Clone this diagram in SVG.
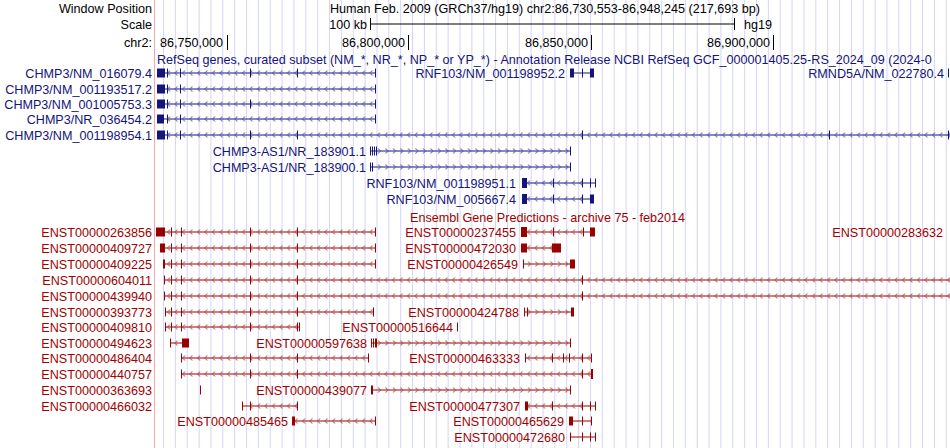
<svg xmlns="http://www.w3.org/2000/svg" width="950" height="448" viewBox="0 0 950 448">
<defs>
<pattern id="grid" patternUnits="userSpaceOnUse" x="163" y="0" width="11.86" height="10"><line x1="0.5" y1="0" x2="0.5" y2="10" style="stroke:#d4d4f4;stroke-width:1"/></pattern>
<pattern id="lb" patternUnits="userSpaceOnUse" x="0" y="-4" width="7.5" height="8"><path d="M5,1.5 L2.5,4 L5,6.5" style="fill:none;stroke:#5a5aa8;stroke-width:1"/></pattern>
<pattern id="gb" patternUnits="userSpaceOnUse" x="0" y="-4" width="7.5" height="8"><path d="M3,1.5 L5.5,4 L3,6.5" style="fill:none;stroke:#5a5aa8;stroke-width:1"/></pattern>
<pattern id="lr" patternUnits="userSpaceOnUse" x="0" y="-4" width="7.5" height="8"><path d="M5,1.5 L2.5,4 L5,6.5" style="fill:none;stroke:#b05050;stroke-width:1"/></pattern>
<pattern id="gr" patternUnits="userSpaceOnUse" x="0" y="-4" width="7.5" height="8"><path d="M3,1.5 L5.5,4 L3,6.5" style="fill:none;stroke:#b05050;stroke-width:1"/></pattern>
</defs>
<style>
text{font-family:"Liberation Sans",Arial,sans-serif;font-size:12.6px}
.k{fill:#000}
.b text,text.b{fill:#14147a}
.r text,text.r{fill:#a00000}
.lab{text-anchor:end}
.b line,.b path{stroke:#14147a;stroke-width:1;fill:none}
.r line,.r path{stroke:#990000;stroke-width:1;fill:none}
.b rect.t{fill:#14147a}
.r rect.t{fill:#990000}
</style>
<rect width="950" height="448" fill="#fff"/>
<rect x="155" y="0" width="795" height="448" fill="url(#grid)"/>
<line x1="154.5" y1="0" x2="154.5" y2="448" stroke="#f0a8a8"/>
<g id="header">
<text class="k lab" x="152" y="13">Window Position</text>
<text class="k" x="330" y="13">Human Feb. 2009 (GRCh37/hg19)   chr2:86,730,553-86,948,245 (217,693 bp)</text>
<text class="k lab" x="152" y="29">Scale</text>
<text class="k lab" x="367" y="29">100 kb</text>
<path d="M370.5,18v12M370.5,24H734.5M734.5,18v12" stroke="#000" fill="none"/>
<text class="k" x="744" y="29">hg19</text>
<text class="k lab" x="152" y="47">chr2:</text>
<text class="k lab" x="223" y="47">86,750,000</text>
<text class="k lab" x="405" y="47">86,800,000</text>
<text class="k lab" x="588" y="47">86,850,000</text>
<text class="k lab" x="770" y="47">86,900,000</text>
<path d="M227.5,35v15M408.5,35v15M591.5,35v15M773.5,35v15" stroke="#000"/>
<text class="b" x="157" y="64">RefSeq genes, curated subset (NM_*, NR_*, NP_* or YP_*) - Annotation Release NCBI RefSeq GCF_000001405.25-RS_2024_09 (2024-0</text>
<text class="r" x="410" y="222">Ensembl Gene Predictions - archive 75 - feb2014</text>
</g>
<g id="connectors">
<g class="b" transform="translate(0,73)">
<text class="lab" x="152" y="4.5">CHMP3/NM_016079.4</text>
<line x1="157" y1="0" x2="375" y2="0"/><rect x="165" y="-4" width="210" height="8" fill="url(#lb)"/>
<rect class="t" x="157" y="-4.5" width="8" height="9"/><path d="M167.5,-4.5v9M180.5,-4.5v9M250.5,-4.5v9M297.5,-4.5v9M375.5,-4.5v9"/>
<text class="lab" x="565" y="4.5">RNF103/NM_001198952.2</text>
<line x1="570" y1="0" x2="594" y2="0"/><rect class="t" x="570" y="-4.5" width="4" height="9"/><rect class="t" x="591" y="-4.5" width="3" height="9"/><path d="M582.5,-4.5v9M590.5,-4.5v9"/>
<text class="lab" x="944" y="4.5">RMND5A/NM_022780.4</text><path d="M948.5,-4.5v9"/>
</g>
<g class="b" transform="translate(0,89)">
<text class="lab" x="152" y="4.5">CHMP3/NM_001193517.2</text>
<line x1="157" y1="0" x2="375" y2="0"/><rect x="165" y="-4" width="210" height="8" fill="url(#lb)"/>
<rect class="t" x="157" y="-4.5" width="8" height="9"/><path d="M167.5,-4.5v9M180.5,-4.5v9M375.5,-4.5v9"/>
</g>
<g class="b" transform="translate(0,104)">
<text class="lab" x="152" y="4.5">CHMP3/NM_001005753.3</text>
<line x1="157" y1="0" x2="375" y2="0"/><rect x="165" y="-4" width="210" height="8" fill="url(#lb)"/>
<rect class="t" x="157" y="-4.5" width="8" height="9"/><path d="M167.5,-4.5v9M180.5,-4.5v9M250.5,-4.5v9M375.5,-4.5v9"/>
</g>
<g class="b" transform="translate(0,119)">
<text class="lab" x="152" y="4.5">CHMP3/NR_036454.2</text>
<line x1="157" y1="0" x2="375" y2="0"/><rect x="165" y="-4" width="210" height="8" fill="url(#lb)"/>
<rect class="t" x="157" y="-4.5" width="7" height="9"/><path d="M167.5,-4.5v9M180.5,-4.5v9M375.5,-4.5v9"/>
</g>
<g class="b" transform="translate(0,135)">
<text class="lab" x="152" y="4.5">CHMP3/NM_001198954.1</text>
<line x1="157" y1="0" x2="950" y2="0"/><rect x="165" y="-4" width="785" height="8" fill="url(#lb)"/>
<rect class="t" x="157" y="-4.5" width="8" height="9"/><path d="M167.5,-4.5v9M180.5,-4.5v9M250.5,-4.5v9M297.5,-4.5v9M582.5,-4.5v9M829.5,-4.5v9M948.5,-4.5v9"/>
</g>
<g class="b" transform="translate(0,151)">
<text class="lab" x="366" y="4.5">CHMP3-AS1/NR_183901.1</text>
<line x1="370" y1="0" x2="570" y2="0"/><rect x="377" y="-4" width="193" height="8" fill="url(#gb)"/>
<path d="M370.5,-4.5v9M372.5,-4.5v9M374.5,-4.5v9M376.5,-4.5v9M570.5,-4.5v9"/>
</g>
<g class="b" transform="translate(0,167)">
<text class="lab" x="366" y="4.5">CHMP3-AS1/NR_183900.1</text>
<line x1="370" y1="0" x2="570" y2="0"/><rect x="374" y="-4" width="196" height="8" fill="url(#gb)"/>
<path d="M370.5,-4.5v9M372.5,-4.5v9M570.5,-4.5v9"/>
</g>
<g class="b" transform="translate(0,183)">
<text class="lab" x="516" y="4.5">RNF103/NM_001198951.1</text>
<line x1="522" y1="0" x2="595" y2="0"/><rect x="527" y="-4" width="56" height="8" fill="url(#lb)"/>
<rect class="t" x="522" y="-5" width="5" height="10"/><path d="M553.5,-4.5v9M582.5,-4.5v9M590.5,-4.5v9M595.5,-4.5v9"/>
</g>
<g class="b" transform="translate(0,199)">
<text class="lab" x="516" y="4.5">RNF103/NM_005667.4</text>
<line x1="522" y1="0" x2="594" y2="0"/><rect x="527" y="-4" width="56" height="8" fill="url(#lb)"/>
<rect class="t" x="522" y="-5" width="5" height="10"/><rect class="t" x="590" y="-4.5" width="4" height="9"/><path d="M553.5,-4.5v9M582.5,-4.5v9"/>
</g>
</g>
<g id="ensembl" class="r">
<g transform="translate(0,232)">
<text class="lab" x="152" y="4.5">ENST00000263856</text>
<line x1="156" y1="0" x2="375" y2="0"/><rect x="165" y="-4" width="210" height="8" fill="url(#lr)"/>
<rect class="t" x="156" y="-4.5" width="9" height="9"/><path d="M171.5,-4.5v9M181.5,-4.5v9M250.5,-4.5v9M297.5,-4.5v9M375.5,-4.5v9"/>
<text class="lab" x="516" y="4.5">ENST00000237455</text>
<line x1="521" y1="0" x2="595" y2="0"/><rect x="527" y="-4" width="56" height="8" fill="url(#lr)"/>
<rect class="t" x="521" y="-5" width="6" height="10"/><rect class="t" x="590" y="-4.5" width="5" height="9"/><path d="M553.5,-4.5v9M583.5,-4.5v9"/>
<text class="lab" x="943" y="4.5">ENST00000283632</text>
</g>
<g transform="translate(0,248)">
<text class="lab" x="152" y="4.5">ENST00000409727</text>
<line x1="160" y1="0" x2="375" y2="0"/><rect x="165" y="-4" width="210" height="8" fill="url(#lr)"/>
<rect class="t" x="160" y="-4.5" width="5" height="9"/><path d="M171.5,-4.5v9M181.5,-4.5v9M250.5,-4.5v9M297.5,-4.5v9M375.5,-4.5v9"/>
<text class="lab" x="516" y="4.5">ENST00000472030</text>
<line x1="521" y1="0" x2="553" y2="0"/><rect x="527" y="-4" width="26" height="8" fill="url(#lr)"/>
<rect class="t" x="521" y="-4.5" width="6" height="9"/><rect class="t" x="552" y="-4.5" width="9" height="9"/>
</g>
<g transform="translate(0,264)">
<text class="lab" x="152" y="4.5">ENST00000409225</text>
<line x1="163" y1="0" x2="375" y2="0"/><rect x="165" y="-4" width="210" height="8" fill="url(#lr)"/>
<rect class="t" x="163" y="-4.5" width="2" height="9"/><path d="M171.5,-4.5v9M181.5,-4.5v9M250.5,-4.5v9M297.5,-4.5v9M375.5,-4.5v9"/>
<text class="lab" x="518" y="4.5">ENST00000426549</text>
<line x1="523" y1="0" x2="572" y2="0"/><rect x="525" y="-4" width="45" height="8" fill="url(#gr)"/>
<path d="M523.5,-4.5v9"/><rect class="t" x="570" y="-4.5" width="5" height="9"/>
</g>
<g transform="translate(0,280)">
<text class="lab" x="152" y="4.5">ENST00000604011</text>
<line x1="165" y1="0" x2="950" y2="0"/><rect x="165" y="-4" width="785" height="8" fill="url(#lr)"/>
<path d="M164.5,-4.5v9M171.5,-4.5v9M181.5,-4.5v9M250.5,-4.5v9M297.5,-4.5v9M582.5,-4.5v9"/>
</g>
<g transform="translate(0,296)">
<text class="lab" x="152" y="4.5">ENST00000439940</text>
<line x1="165" y1="0" x2="950" y2="0"/><rect x="165" y="-4" width="785" height="8" fill="url(#lr)"/>
<path d="M164.5,-4.5v9M171.5,-4.5v9M181.5,-4.5v9M250.5,-4.5v9M297.5,-4.5v9M582.5,-4.5v9"/>
</g>
<g transform="translate(0,312)">
<text class="lab" x="152" y="4.5">ENST00000393773</text>
<line x1="165" y1="0" x2="373" y2="0"/><rect x="165" y="-4" width="208" height="8" fill="url(#lr)"/>
<path d="M165.5,-4.5v9M171.5,-4.5v9M181.5,-4.5v9M250.5,-4.5v9M297.5,-4.5v9M373.5,-4.5v9"/>
<text class="lab" x="519" y="4.5">ENST00000424788</text>
<line x1="524" y1="0" x2="572" y2="0"/><rect x="528" y="-4" width="42" height="8" fill="url(#gr)"/>
<path d="M524.5,-4.5v9M527.5,-4.5v9"/><rect class="t" x="571" y="-4.5" width="3" height="9"/>
</g>
<g transform="translate(0,327)">
<text class="lab" x="152" y="4.5">ENST00000409810</text>
<line x1="165" y1="0" x2="299" y2="0"/><rect x="165" y="-4" width="134" height="8" fill="url(#lr)"/>
<path d="M165.5,-4.5v9M171.5,-4.5v9M181.5,-4.5v9M250.5,-4.5v9M297.5,-4.5v9M299.5,-4.5v9"/>
<text class="lab" x="453" y="4.5">ENST00000516644</text>
<path d="M457.5,-4.5v9"/>
</g>
<g transform="translate(0,343)">
<text class="lab" x="152" y="4.5">ENST00000494623</text>
<line x1="170" y1="0" x2="182" y2="0"/><rect x="172" y="-4" width="10" height="8" fill="url(#lr)"/>
<path d="M170.5,-4.5v9"/><rect class="t" x="182" y="-4.5" width="7" height="9"/>
<text class="lab" x="367" y="4.5">ENST00000597638</text>
<line x1="371" y1="0" x2="570" y2="0"/><rect x="377" y="-4" width="193" height="8" fill="url(#gr)"/>
<path d="M371.5,-4.5v9M373.5,-4.5v9M375.5,-4.5v9M376.5,-4.5v9M570.5,-4.5v9"/>
</g>
<g transform="translate(0,358)">
<text class="lab" x="152" y="4.5">ENST00000486404</text>
<line x1="181" y1="0" x2="368" y2="0"/><rect x="181" y="-4" width="187" height="8" fill="url(#lr)"/>
<path d="M181.5,-4.5v9M250.5,-4.5v9M297.5,-4.5v9M368.5,-4.5v9"/>
<text class="lab" x="520" y="4.5">ENST00000463333</text>
<line x1="525" y1="0" x2="591" y2="0"/><rect x="525" y="-4" width="66" height="8" fill="url(#lr)"/>
<path d="M525.5,-4.5v9M552.5,-4.5v9M563.5,-4.5v9M569.5,-4.5v9M582.5,-4.5v9M591.5,-4.5v9"/>
</g>
<g transform="translate(0,374)">
<text class="lab" x="152" y="4.5">ENST00000440757</text>
<line x1="181" y1="0" x2="591" y2="0"/><rect x="181" y="-4" width="410" height="8" fill="url(#lr)"/>
<path d="M181.5,-4.5v9M250.5,-4.5v9M297.5,-4.5v9M582.5,-4.5v9"/><rect class="t" x="591" y="-5" width="2" height="10"/>
</g>
<g transform="translate(0,390)">
<text class="lab" x="152" y="4.5">ENST00000363693</text>
<path d="M200.5,-4.5v9"/>
<text class="lab" x="367" y="4.5">ENST00000439077</text>
<line x1="371" y1="0" x2="570" y2="0"/><rect x="374" y="-4" width="196" height="8" fill="url(#gr)"/>
<path d="M371.5,-4.5v9M372.5,-4.5v9M570.5,-4.5v9"/>
</g>
<g transform="translate(0,406)">
<text class="lab" x="152" y="4.5">ENST00000466032</text>
<line x1="242" y1="0" x2="297" y2="0"/><rect x="250" y="-4" width="47" height="8" fill="url(#lr)"/>
<path d="M242.5,-4.5v9M250.5,-4.5v9M297.5,-4.5v9"/>
<text class="lab" x="520" y="4.5">ENST00000477307</text>
<line x1="525" y1="0" x2="595" y2="0"/><rect x="528" y="-4" width="55" height="8" fill="url(#lr)"/>
<rect class="t" x="525" y="-4.5" width="3" height="9"/><path d="M552.5,-4.5v9M582.5,-4.5v9M590.5,-4.5v9M595.5,-4.5v9"/>
</g>
<g transform="translate(0,421)">
<text class="lab" x="288" y="4.5">ENST00000485465</text>
<line x1="292" y1="0" x2="375" y2="0"/><rect x="295" y="-4" width="80" height="8" fill="url(#lr)"/>
<rect class="t" x="292" y="-4.5" width="3" height="9"/><path d="M375.5,-4.5v9"/>
</g>
<g transform="translate(0,421)">
<text class="lab" x="564" y="4.5">ENST00000465629</text>
<line x1="569" y1="0" x2="591" y2="0"/>
<rect class="t" x="569" y="-4.5" width="4" height="9"/><path d="M582.5,-4.5v9M591.5,-4.5v9"/>
</g>
<g transform="translate(0,437)">
<text class="lab" x="565" y="4.5">ENST00000472680</text>
<line x1="570" y1="0" x2="595" y2="0"/>
<path d="M570.5,-4.5v9M582.5,-4.5v9M590.5,-4.5v9M595.5,-4.5v9"/>
</g>
</g>
</svg>
